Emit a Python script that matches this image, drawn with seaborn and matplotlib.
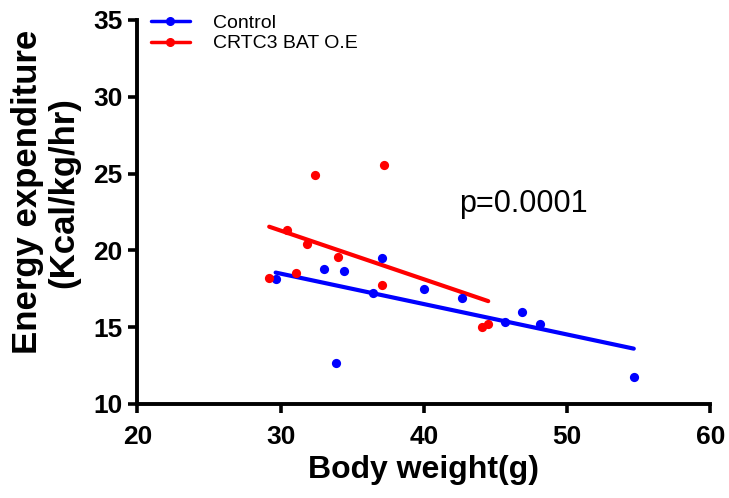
import matplotlib
matplotlib.use("Agg")
import matplotlib.pyplot as plt
from matplotlib.lines import Line2D
import seaborn as sns
import pandas as pd

ctrl_weight = [29.65, 33.04, 34.42, 33.84, 36.46, 37.05, 40.02, 42.63, 45.65, 46.84, 48.1, 54.65]
ctrl_ee = [18.1, 18.79, 18.64, 12.66, 17.2, 19.51, 17.46, 16.87, 15.35, 16.0, 15.18, 11.76]
oe_weight = [29.2, 30.42, 31.07, 31.81, 32.42, 34.02, 37.23, 37.05, 44.07, 44.49]
oe_ee = [18.2, 21.29, 18.53, 20.38, 24.9, 19.55, 25.56, 17.77, 15.03, 15.2]
groups = ["Control", "CRTC3 BAT O.E"]
colors = ["#0000ff", "#ff0000"]
x_ticks = [20, 30, 40, 50, 60]
y_ticks = [10, 15, 20, 25, 30, 35]
p_text = "p=0.0001"

sns.set_style("ticks")
plt.rcParams["font.family"] = ["Liberation Sans", "DejaVu Sans"]
plt.rcParams["text.color"] = "black"
plt.rcParams["axes.labelcolor"] = "black"
plt.rcParams["xtick.color"] = "black"
plt.rcParams["ytick.color"] = "black"
plt.rcParams["axes.edgecolor"] = "black"

df = pd.concat([
    pd.DataFrame({"w": ctrl_weight, "ee": ctrl_ee, "g": groups[0]}),
    pd.DataFrame({"w": oe_weight, "ee": oe_ee, "g": groups[1]}),
])

fig = plt.figure(figsize=(7.29, 4.98), dpi=100)
ax = fig.add_axes([0.1885, 0.189, 0.786, 0.771])

for g, c in zip(groups, colors):
    sub = df[df.g == g]
    sns.regplot(data=sub, x="w", y="ee", ax=ax, ci=None, truncate=True,
                color=c, scatter_kws={"s": 44, "linewidths": 0, "alpha": 1, "zorder": 3},
                line_kws={"lw": 3})

ax.set_xlim(20, 60)
ax.set_ylim(10, 35)
ax.set_xticks(x_ticks)
ax.set_yticks(y_ticks)
ax.tick_params(axis="both", labelsize=19, width=2.6, length=6.5, direction="out")
ax.tick_params(axis="x", pad=9)
ax.tick_params(axis="y", pad=4)
for lab in ax.get_xticklabels() + ax.get_yticklabels():
    lab.set_fontweight("bold")
for s in ["top", "right"]:
    ax.spines[s].set_visible(False)
for s in ["left", "bottom"]:
    ax.spines[s].set_linewidth(2.8)

ax.set_xlabel("Body weight(g)", fontsize=23, fontweight="bold", labelpad=4)
ax.set_ylabel("Energy expenditure\n(Kcal/kg/hr)", fontsize=25, fontweight="bold",
              linespacing=1.12)
ax.yaxis.set_label_coords(-0.1, 0.551)

ax.text(0.673, 0.4995, p_text, transform=ax.transAxes, fontsize=22,
        ha="center", va="baseline")

handles = [Line2D([0], [0], color=c, lw=2.5, marker="o", markersize=5.5) for c in colors]
ax.legend(handles, groups, loc="upper left", bbox_to_anchor=(0.0, 1.05),
          frameon=False, fontsize=14, handlelength=2.0, handletextpad=1.2,
          labelspacing=0.15, borderaxespad=0.3)

fig.savefig("out.png", dpi=100)
